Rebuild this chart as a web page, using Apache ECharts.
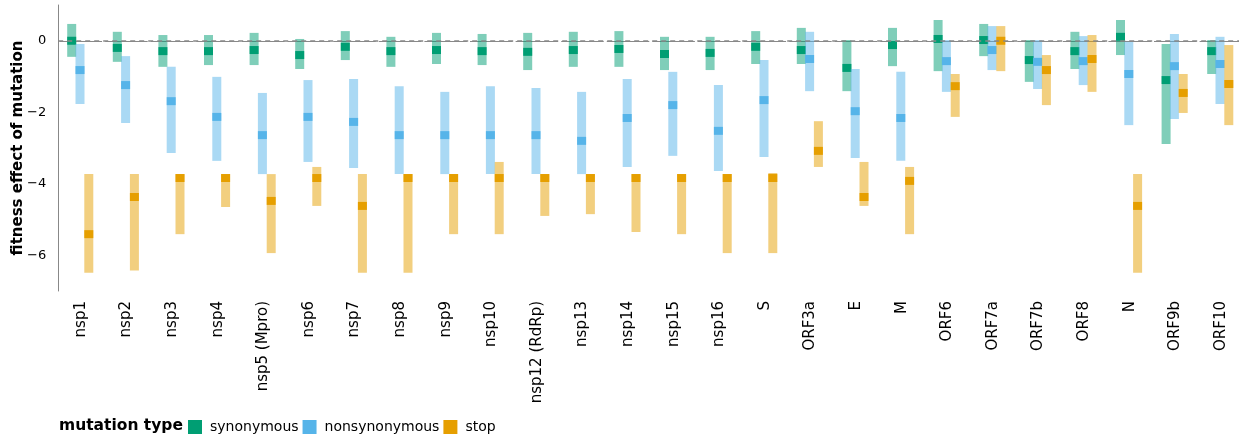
<!DOCTYPE html>
<html>
<head>
<meta charset="utf-8">
<script src="https://cdn.jsdelivr.net/npm/echarts@6/dist/echarts.min.js"></script>
<style>
  html, body { margin: 0; padding: 0; background: #fff; }
  #chart { width: 1239px; height: 440px; }
</style>
</head>
<body>
<div id="chart"></div>
<script>
// Genes along the SARS-CoV-2 genome
const genes = ['nsp1', 'nsp2', 'nsp3', 'nsp4', 'nsp5 (Mpro)', 'nsp6', 'nsp7', 'nsp8', 'nsp9', 'nsp10',
  'nsp12 (RdRp)', 'nsp13', 'nsp14', 'nsp15', 'nsp16', 'S', 'ORF3a', 'E', 'M', 'ORF6', 'ORF7a', 'ORF7b',
  'ORF8', 'N', 'ORF9b', 'ORF10'];

// Fitness effect ranges (low, high) and medians per mutation type
const synLow = [-0.45, -0.59, -0.73, -0.68, -0.68, -0.79, -0.54, -0.73, -0.65, -0.68, -0.82, -0.73, -0.73,
  -0.82, -0.82, -0.65, -0.65, -1.41, -0.71, -0.85, -0.43, -1.15, -0.79, -0.40, -2.89, -0.93];
const synHigh = [0.47, 0.25, 0.16, 0.16, 0.22, 0.05, 0.27, 0.11, 0.22, 0.19, 0.22, 0.25, 0.27,
  0.11, 0.11, 0.27, 0.36, 0.02, 0.36, 0.58, 0.47, 0.02, 0.25, 0.58, -0.09, 0.02];
const synMedian = [0.0, -0.20, -0.29, -0.29, -0.26, -0.40, -0.17, -0.29, -0.26, -0.29, -0.31, -0.26, -0.23,
  -0.37, -0.34, -0.17, -0.26, -0.76, -0.12, 0.05, 0.02, -0.54, -0.29, 0.11, -1.10, -0.29];

const nonLow = [-1.77, -2.30, -3.14, -3.36, -3.73, -3.39, -3.56, -3.73, -3.73, -3.73, -3.73, -3.73, -3.53,
  -3.22, -3.64, -3.25, -1.41, -3.28, -3.36, -1.43, -0.82, -1.35, -1.24, -2.36, -2.19, -1.77];
const nonHigh = [-0.09, -0.43, -0.73, -1.01, -1.46, -1.10, -1.07, -1.27, -1.43, -1.27, -1.32, -1.43, -1.07,
  -0.87, -1.24, -0.54, 0.25, -0.79, -0.87, 0.02, 0.41, 0.02, 0.13, -0.03, 0.19, 0.11];
const nonMedian = [-0.82, -1.24, -1.69, -2.13, -2.64, -2.13, -2.27, -2.64, -2.64, -2.64, -2.64, -2.80, -2.16,
  -1.80, -2.52, -1.66, -0.51, -1.97, -2.16, -0.57, -0.26, -0.59, -0.57, -0.93, -0.71, -0.65];

const stopLow = [-6.49, -6.43, -5.41, -4.65, -5.94, -4.62, -6.49, -6.49, -5.41, -5.41, -4.90, -4.85, -5.35,
  -5.41, -5.94, -5.94, -3.53, -4.62, -5.41, -2.13, -0.85, -1.80, -1.43, -6.49, -2.02, -2.36];
const stopHigh = [-3.73, -3.73, -3.73, -3.73, -3.73, -3.53, -3.73, -3.73, -3.73, -3.39, -3.73, -3.73, -3.73,
  -3.73, -3.73, -3.70, -2.25, -3.39, -3.53, -0.93, 0.41, -0.40, 0.16, -3.73, -0.93, -0.12];
const stopMedian = [-5.41, -4.37, -3.84, -3.84, -4.48, -3.84, -4.62, -3.84, -3.84, -3.84, -3.84, -3.84, -3.84,
  -3.84, -3.84, -3.84, -3.08, -4.37, -3.92, -1.27, 0.0, -0.82, -0.51, -4.62, -1.46, -1.21];

const FONT = 'DejaVu Sans';
const BAND = 45.6;

function rows(low, high, med) {
  return genes.map((g, i) => [i, low[i], high[i], med[i]]);
}

// Range bar (translucent) plus a solid median marker, shifted within each gene's band
function rangeRenderer(offset) {
  return function (params, api) {
    const i = api.value(0);
    const cx = api.coord([i, 0])[0] + offset;
    const yLow = api.coord([i, api.value(1)])[1];
    const yHigh = api.coord([i, api.value(2)])[1];
    const yMed = api.coord([i, api.value(3)])[1];
    const color = api.visual('color');
    const w = 9;
    return {
      type: 'group',
      children: [
        { type: 'rect', shape: { x: cx - w / 2, y: yHigh, width: w, height: yLow - yHigh },
          style: { fill: color, opacity: 0.5 } },
        { type: 'rect', shape: { x: cx - w / 2, y: yMed - 4, width: w, height: 8 },
          style: { fill: color } }
      ]
    };
  };
}

function makeSeries(name, color, offset, data, extra) {
  return Object.assign({
    name: name,
    type: 'custom',
    renderItem: rangeRenderer(offset),
    itemStyle: { color: color },
    encode: { x: 0, y: [1, 2, 3] },
    data: data,
    animation: false
  }, extra || {});
}

const chart = echarts.init(document.getElementById('chart'), null, { renderer: 'canvas' });

chart.setOption({
  backgroundColor: '#fff',
  animation: false,
  textStyle: { fontFamily: FONT },
  grid: {
    left: 58.2, top: 5, width: BAND * genes.length, height: 286,
    containLabel: false, outerBoundsMode: 'none'
  },
  legend: {
    left: 183, top: 415,
    itemWidth: 14, itemHeight: 14, itemGap: 4,
    icon: 'rect',
    textStyle: { fontFamily: FONT, fontSize: 14, color: '#000', padding: [0, 0, 0, 3] },
    data: ['synonymous', 'nonsynonymous', 'stop']
  },
  graphic: [{
    type: 'text', left: 59, top: 418,
    style: { text: 'mutation type', font: 'bold 15.5px "DejaVu Sans"', fill: '#000' }
  }],
  xAxis: {
    type: 'category',
    data: genes,
    boundaryGap: true,
    axisLine: { lineStyle: { color: '#888', width: 1, type: [41.7, 3.9], dashOffset: 43.8 } },
    axisTick: { alignWithLabel: true, length: 6, lineStyle: { color: '#888' } },
    axisLabel: { interval: 0, rotate: 90, margin: 10, fontSize: 15, color: '#000', fontFamily: FONT },
    splitLine: { show: false }
  },
  yAxis: {
    type: 'value',
    min: -7, max: 1, interval: 1,
    name: 'fitness effect of mutation',
    nameLocation: 'middle',
    nameGap: 33,
    nameMoveOverlap: false,
    nameTextStyle: { fontSize: 15, fontWeight: 'bold', color: '#000', fontFamily: FONT },
    axisLine: { show: true, lineStyle: { color: '#888', width: 1 } },
    axisTick: { show: false },
    splitLine: { show: false },
    axisLabel: {
      margin: 12, fontSize: 13, color: '#000', fontFamily: FONT,
      formatter: v => (v % 2 === 0 ? (v < 0 ? '\u2212' + Math.abs(v) : String(v)) : '')
    }
  },
  series: [
    makeSeries('synonymous', '#009E73', -9.3, rows(synLow, synHigh, synMedian), {
      markLine: {
        silent: true, symbol: 'none', label: { show: false },
        lineStyle: { color: '#888', width: 1.5, type: [5, 4] },
        data: [{ yAxis: 0 }]
      }
    }),
    makeSeries('nonsynonymous', '#56B4E9', -1.0, rows(nonLow, nonHigh, nonMedian)),
    makeSeries('stop', '#E69F00', 7.8, rows(stopLow, stopHigh, stopMedian))
  ]
});
</script>
</body>
</html>
